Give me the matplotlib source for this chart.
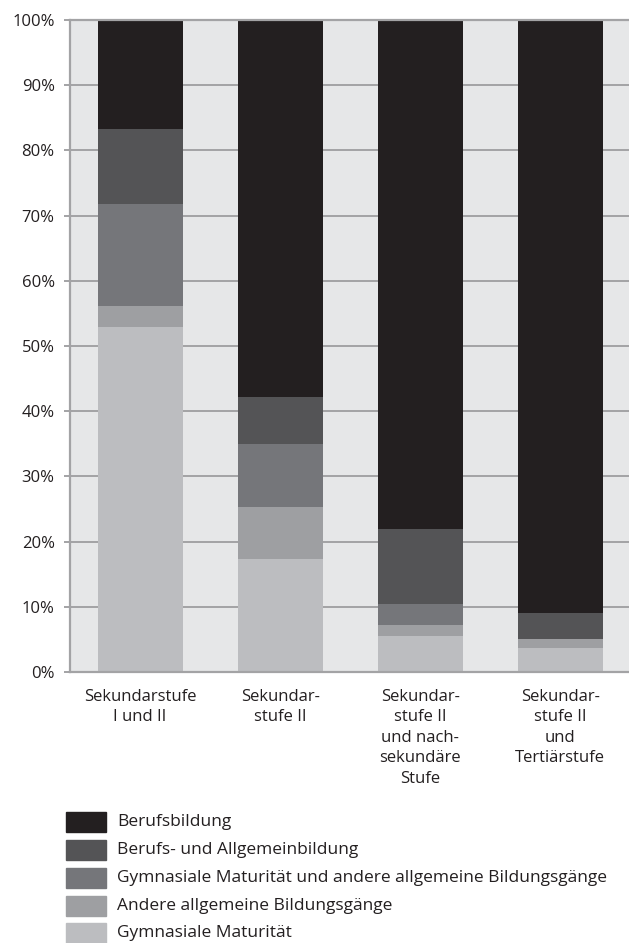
import matplotlib.pyplot as plt
from matplotlib.patches import Rectangle

plt.rcParams["font.family"] = ["Open Sans", "DejaVu Sans"]

categories = [
    "Sekundarstufe\nI und II",
    "Sekundar-\nstufe II",
    "Sekundar-\nstufe II\nund nach-\nsekundäre\nStufe",
    "Sekundar-\nstufe II\nund\nTertiärstufe",
]
series_names = [
    "Gymnasiale Maturität",
    "Andere allgemeine Bildungsgänge",
    "Gymnasiale Maturität und andere allgemeine Bildungsgänge",
    "Berufs- und Allgemeinbildung",
    "Berufsbildung",
]
gymnasium = [52.9, 17.3, 5.5, 3.7]
andere = [3.2, 8.0, 1.7, 1.4]
gym_und_andere = [15.7, 9.7, 3.2, 0.0]
berufs_allgemein = [11.5, 7.2, 11.5, 3.9]
berufsbildung = [16.7, 57.8, 78.1, 91.0]
colors = ["#bcbdc0", "#9e9fa2", "#75767a", "#545456", "#231f20"]

values = [gymnasium, andere, gym_und_andere, berufs_allgemein, berufsbildung]

fig = plt.figure(figsize=(6.29, 9.43), dpi=100)
ax = fig.add_axes([70 / 629, 271 / 943, 559 / 629, 652 / 943])
ax.set_facecolor("#e6e7e8")

x = range(len(categories))
bottom = [0.0] * len(categories)
for vals, col in zip(values, colors):
    ax.bar(x, vals, bottom=bottom, width=0.607, color=col, zorder=3)
    bottom = [b + v for b, v in zip(bottom, vals)]

ax.set_xlim(-0.5, 3.49)
ax.set_ylim(0, 100)
ax.set_yticks(range(0, 101, 10))
ax.set_yticklabels([f"{t}%" for t in range(0, 101, 10)])
ax.yaxis.grid(True, color="#a3a3a5", linewidth=1.4, zorder=1)
ax.set_axisbelow(True)

ax.set_xticks(list(x))
ax.set_xticklabels(categories, fontsize=12, color="#231f20", linespacing=1.38,
                   va="top")
ax.tick_params(axis="x", length=0, pad=12)
ax.tick_params(axis="y", length=4, width=1.4, color="#a3a3a5", labelsize=12,
               labelcolor="#231f20", pad=7)

for side in ["left", "bottom", "top"]:
    ax.spines[side].set_color("#a3a3a5")
    ax.spines[side].set_linewidth(1.6)
    ax.spines[side].set_zorder(4)
ax.spines["right"].set_visible(False)

# legend drawn by hand, darkest entry first
legend_rows = [822, 850, 878, 906, 933]
for row, name, col in zip(legend_rows, series_names[::-1], colors[::-1]):
    fig.add_artist(Rectangle((66 / 629, (943 - row - 10) / 943), 40 / 629, 20 / 943,
                             transform=fig.transFigure, color=col))
    fig.text(117 / 629, (943 - row) / 943, name, fontsize=12.5, color="#231f20",
             va="center", ha="left")

fig.savefig("out.png", dpi=100)
